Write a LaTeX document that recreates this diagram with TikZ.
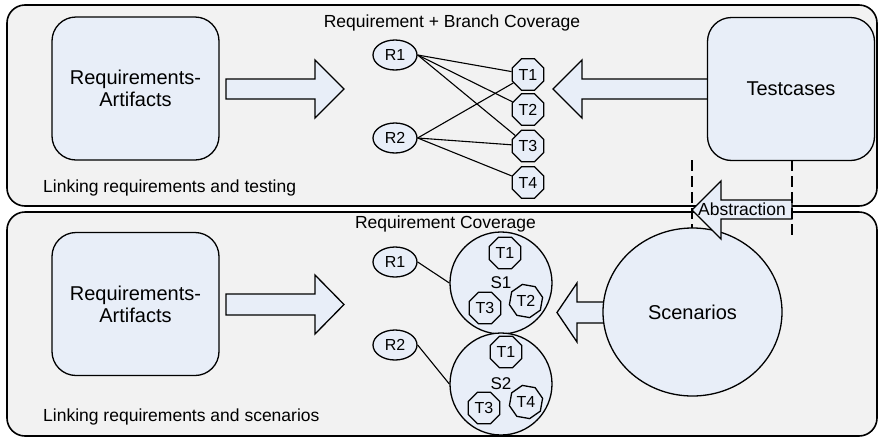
\documentclass[tikz,border=0pt]{standalone}
\usepackage{fontspec}
\setmainfont{Liberation Sans}
\usetikzlibrary{shapes.geometric}
\definecolor{panelfill}{RGB}{242,242,242}
\definecolor{nodefill}{RGB}{232,238,248}
\begin{document}
\begin{tikzpicture}[x=1pt,y=-1pt,
  panel/.style={draw=black,line width=1.6pt,fill=panelfill,rounded corners=18pt},
  bigbox/.style={draw=black,line width=1.3pt,fill=nodefill,rounded corners=24pt,minimum width=167pt,minimum height=143pt,align=center,font=\fontsize{20}{22}\selectfont,inner sep=0pt},
  blockarrow/.style={draw=black,line width=1.3pt,fill=nodefill,line join=miter},
  req/.style={ellipse,draw=black,line width=1.3pt,fill=nodefill,minimum width=44pt,minimum height=30pt,inner sep=0pt,font=\fontsize{16}{18}\selectfont},
  tc/.style={regular polygon,regular polygon sides=8,draw=black,line width=1.3pt,fill=nodefill,minimum size=34pt,inner sep=0pt,font=\fontsize{16}{18}\selectfont},
  scen/.style={circle,draw=black,line width=1.3pt,fill=nodefill,minimum size=102pt,inner sep=0pt,font=\fontsize{17}{19}\selectfont},
  link/.style={draw=black,line width=1.1pt},
  lbl/.style={font=\fontsize{17.5}{20}\selectfont,inner sep=0pt},
  guide/.style={draw=black,line width=1.3pt,dash pattern=on 11pt off 5pt}
]
\useasboundingbox[fill=white] (0,0) rectangle (879,437);
% panels
\draw[panel] (7,5) rectangle (877,206);
\draw[panel] (7,212) rectangle (877,436);
% block arrows (drawn below the boxes they leave)
\draw[blockarrow] (226,79) -- (315,79) -- (315,60) -- (344,89) -- (315,118) -- (315,99) -- (226,99) -- cycle;
\draw[blockarrow] (714,79) -- (582,79) -- (582,60) -- (553,89) -- (582,118) -- (582,99) -- (714,99) -- cycle;
\draw[blockarrow] (226,294) -- (315,294) -- (315,275) -- (344,304.5) -- (315,334) -- (315,315) -- (226,315) -- cycle;
\draw[blockarrow] (615,302) -- (577,302) -- (577,283) -- (557,312.5) -- (577,342) -- (577,323) -- (615,323) -- cycle;
% big boxes
\node[bigbox] (RA1) at (135.5,88.5) {Requirements-\\Artifacts};
\node[bigbox] (RA2) at (135.5,304) {Requirements-\\Artifacts};
\node[bigbox] (TC) at (791,89) {Testcases};
\node[ellipse,draw=black,line width=1.3pt,fill=nodefill,minimum width=179pt,minimum height=168pt,inner sep=0pt,font=\fontsize{20}{22}\selectfont] (SC) at (692.5,312) {Scenarios};
% top: requirements and testcases
\node[req] (R1) at (395,55) {R1};
\node[req] (R2) at (395,138) {R2};
\node[tc] (T1) at (528,74.5) {T1};
\node[tc] (T2) at (528,109.5) {T2};
\node[tc] (T3) at (528,146) {T3};
\node[tc] (T4) at (528,182.5) {T4};
\draw[link] (R1.east) -- (T1);
\draw[link] (R1.east) -- (T2);
\draw[link] (R1.east) -- (T3);
\draw[link] (R2.east) -- (T1);
\draw[link] (R2.east) -- (T3);
\draw[link] (R2.east) -- (T4);
% bottom: requirements and scenarios
\node[req] (BR1) at (395,262) {R1};
\node[req] (BR2) at (395,345) {R2};
\node[scen] (S1) at (501,283) {S1};
\node[scen] (S2) at (501,384) {S2};
\node[tc] (S1T1) at (505,253) {T1};
\node[tc] (S1T3) at (485,308) {T3};
\node[tc,shape border rotate=-10] (S1T2) at (526,301) {T2};
\node[tc] (S2T1) at (506,352) {T1};
\node[tc] (S2T3) at (484,408) {T3};
\node[tc,shape border rotate=-10] (S2T4) at (526,402) {T4};
\draw[link] (BR1.east) -- (S1.west);
\draw[link] (BR2.east) -- (S2.west);
% abstraction arrow
\draw[blockarrow] (792,200) -- (721,200) -- (721,181) -- (692,210) -- (721,239) -- (721,219) -- (792,219) -- cycle;
\node[lbl] (ABS) at (742,209.5) {Abstraction};
% dashed guides
\coordinate (GL1) at (692,160);
\coordinate (GL2) at (692,228);
\coordinate (GR1) at (792,160);
\coordinate (GR2) at (792,237);
\draw[guide] (GL1) -- (GL2);
\draw[guide] (GR1) -- (GR2);
% labels
\node[lbl] (TT) at (452,23) {Requirement + Branch Coverage};
\node[lbl] (BT) at (445.5,224) {Requirement Coverage};
\node[lbl,anchor=west] (LT) at (43,188) {Linking requirements and testing};
\node[lbl,anchor=west] (LB) at (43,417) {Linking requirements and scenarios};
\end{tikzpicture}
\end{document}
